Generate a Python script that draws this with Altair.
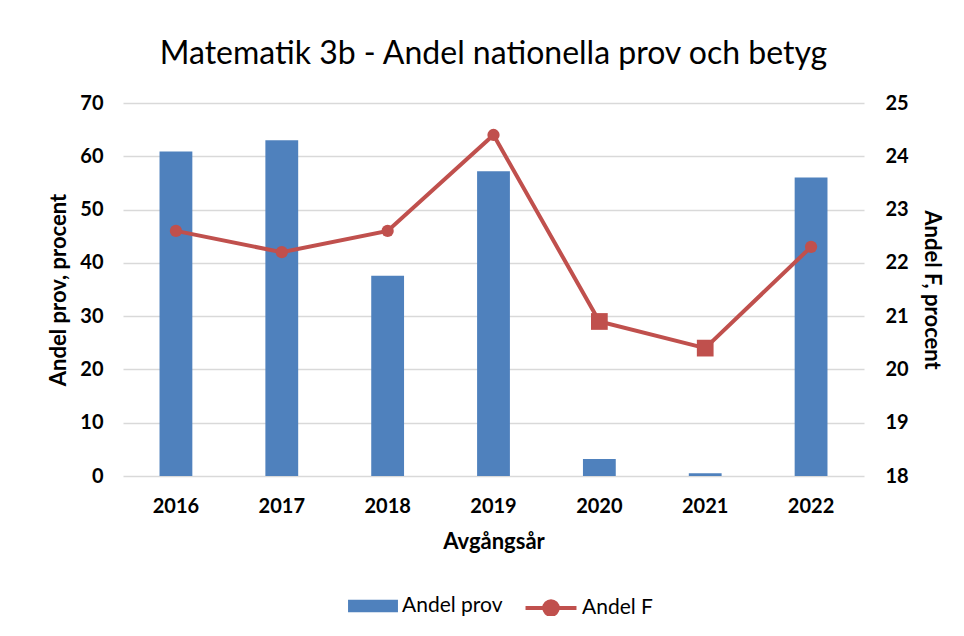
import altair as alt
import pandas as pd

# ---- data ----
years = ["2016", "2017", "2018", "2019", "2020", "2021", "2022"]
andel_prov = [60.9, 63.0, 37.6, 57.2, 3.2, 0.5, 56.0]
andel_f = [22.6, 22.2, 22.6, 24.4, 20.9, 20.4, 22.3]
markers = ["circle", "circle", "circle", "circle", "square", "square", "circle"]
left_ticks = [0, 10, 20, 30, 40, 50, 60, 70]
right_ticks = [18, 19, 20, 21, 22, 23, 24, 25]

df = pd.DataFrame({"År": years, "prov": andel_prov, "F": andel_f, "markör": markers})

BLUE = "#4F81BD"
RED = "#C0504D"
GRID = "#D9D9D9"
FONT = "Lato"
LABEL_SIZE = 20
AXIS_TITLE_SIZE = 22

bar_path = "M-0.96,-0.24L0.96,-0.24L0.96,0.24L-0.96,0.24Z"
line_path = ("M-0.98,0L0.98,0M-0.26,0A0.26,0.26 0 1,0 0.26,0"
             "A0.26,0.26 0 1,0 -0.26,0Z")

common_legend = dict(
    title=None,
    orient="none",
    direction="horizontal",
    symbolSize=2704,
    labelFontSize=21,
    labelFont=FONT,
    labelColor="#000000",
    labelOffset=3,
    labelLimit=400,
    symbolOpacity=1,
)

legend_prov = alt.Legend(
    legendX=224, legendY=477, symbolType=bar_path,
    symbolStrokeWidth=0, symbolFillColor=BLUE, **common_legend,
)
legend_f = alt.Legend(
    legendX=400, legendY=477, symbolType=line_path,
    symbolStrokeColor=RED, symbolStrokeWidth=4, symbolFillColor=RED, **common_legend,
)

x = alt.X(
    "År:N",
    title="Avgångsår",
    scale=alt.Scale(paddingInner=0.69, paddingOuter=0.345),
    axis=alt.Axis(
        labelAngle=0,
        domain=False,
        ticks=False,
        labelFontSize=LABEL_SIZE,
        labelFontWeight="bold",
        labelFont=FONT,
        labelColor="#000000",
        labelPadding=20,
        titleFontSize=AXIS_TITLE_SIZE,
        titleFontWeight="bold",
        titleFont=FONT,
        titleColor="#000000",
        titlePadding=15,
    ),
)

bars = (
    alt.Chart(df)
    .transform_calculate(serie="'Andel prov'")
    .mark_bar(opacity=1)
    .encode(
        x=x,
        y=alt.Y(
            "prov:Q",
            title="Andel prov, procent",
            scale=alt.Scale(domain=[0, 70], nice=False),
            axis=alt.Axis(
                values=left_ticks,
                domain=False,
                ticks=False,
                grid=True,
                gridColor=GRID,
                gridWidth=1.5,
                labelFontSize=LABEL_SIZE,
                labelFontWeight="bold",
                labelFont=FONT,
                labelColor="#000000",
                labelPadding=20,
                titleFontSize=AXIS_TITLE_SIZE,
                titleFontWeight="bold",
                titleFont=FONT,
                titleColor="#000000",
                titlePadding=9,
            ),
        ),
        color=alt.Color("serie:N", scale=alt.Scale(domain=["Andel prov"], range=[BLUE]), legend=legend_prov),
    )
)

base_f = alt.Chart(df).transform_calculate(serie="'Andel F'").encode(
    x=x,
    y=alt.Y(
        "F:Q",
        title="Andel F, procent",
        scale=alt.Scale(domain=[18, 25], nice=False),
        axis=alt.Axis(
            orient="right",
            values=right_ticks,
            domain=False,
            ticks=False,
            grid=False,
            labelFontSize=LABEL_SIZE,
            labelFontWeight="bold",
            labelFont=FONT,
            labelColor="#000000",
            labelPadding=21,
            titleFontSize=AXIS_TITLE_SIZE,
            titleFontWeight="bold",
            titleFont=FONT,
            titleColor="#000000",
            titlePadding=11,
        ),
    ),
)

line = base_f.mark_line(strokeWidth=4, color=RED)
points = base_f.mark_point(filled=True, opacity=1, strokeWidth=0).encode(
    fill=alt.Fill("serie:N", scale=alt.Scale(domain=["Andel F"], range=[RED]), legend=legend_f),
    shape=alt.Shape("markör:N", scale=alt.Scale(domain=["circle", "square"], range=["circle", "square"]), legend=None),
    size=alt.Size("markör:N", scale=alt.Scale(domain=["circle", "square"], range=[150, 280]), legend=None),
)

chart = (
    alt.layer(bars, alt.layer(line, points))
    .resolve_scale(y="independent")
    .properties(
        width=741,
        height=373,
        title=alt.Title(
            "Matematik 3b - Andel nationella prov och betyg",
            fontSize=32,
            font=FONT,
            fontWeight="normal",
            color="#000000",
            anchor="middle",
            offset=22,
        ),
        padding={"left": 115, "top": 95, "right": 92, "bottom": 140},
        autosize=alt.AutoSizeParams(type="none"),
        background="#ffffff",
    )
    .configure_view(stroke=None)
)

chart.save("out.html", embed_options={"renderer": "svg", "actions": False})
